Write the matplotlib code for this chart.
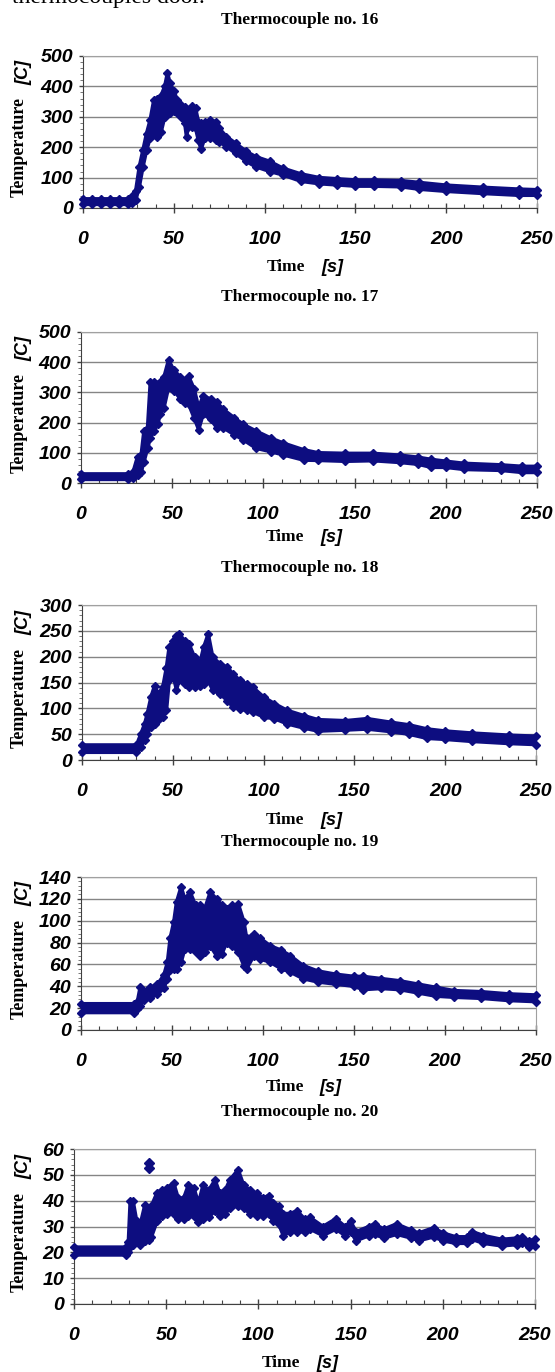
import matplotlib
matplotlib.use("Agg")
import matplotlib.pyplot as plt
from matplotlib.ticker import MultipleLocator, AutoMinorLocator
from matplotlib.transforms import blended_transform_factory
import numpy as np

# ---- data: band envelope (low / high) per thermocouple ----
t16 = [0, 5, 10, 15, 20, 25, 27, 29, 31, 33, 35, 37, 39, 41, 43, 45, 46.5, 48, 50, 52, 54, 56,
       57, 58, 60, 62, 63.5, 65, 67, 70, 73, 75, 79, 84, 90, 95, 103, 110, 120, 130, 140, 150,
       160, 175, 185, 200, 220, 240, 250]
lo16 = [12, 12, 12, 12, 12, 12, 15, 25, 70, 135, 190, 230, 245, 235, 250, 300, 320, 311, 320, 311,
        300, 280, 235, 265, 268, 262, 224, 193, 229, 229, 225, 218, 202, 180, 153, 136, 120, 109,
        88, 80, 76, 72, 72, 70, 62, 55, 48, 42, 42]
hi16 = [30, 30, 30, 30, 30, 30, 38, 55, 135, 190, 245, 290, 355, 360, 370, 400, 444, 410, 385, 355,
        340, 332, 320, 320, 335, 328, 284, 278, 284, 289, 284, 262, 235, 213, 186, 169, 153, 131,
        112, 100, 96, 92, 92, 90, 84, 75, 68, 62, 60]

t17 = [0, 26, 28.5, 31, 33, 34.5, 36.5, 38, 40, 42, 43.5, 45.5, 48, 51, 54.5, 57, 59, 62, 64.5,
       67, 71, 74.5, 78, 84, 89, 96, 104, 111, 122, 130, 145, 160, 175, 185, 192, 200, 210, 230,
       242, 250]
lo17 = [12, 12, 15, 26, 37, 70, 115, 149, 171, 194, 228, 250, 317, 306, 278, 265, 261, 216, 177,
        228, 211, 183, 183, 160, 143, 115, 104, 93, 76, 75, 72, 74, 68, 62, 52, 52, 45, 42, 35, 35]
hi17 = [30, 30, 35, 87, 93, 171, 183, 334, 334, 328, 334, 351, 407, 373, 351, 340, 353, 312, 250,
        289, 278, 267, 244, 216, 194, 172, 149, 132, 110, 100, 98, 98, 92, 85, 78, 72, 65, 60, 55, 55]

t18 = [0, 30, 32.5, 34.5, 36, 38, 40, 42, 44.5, 46.5, 48, 50, 52, 53.5, 56.5, 59, 62, 65, 67,
       69.5, 72, 76, 80, 83, 87, 91, 94, 100, 106, 113, 122, 130, 145, 157, 170, 180, 190, 200,
       215, 235, 250]
lo18 = [15, 15, 26, 38, 51, 64, 70, 77, 83, 96, 154, 167, 136, 154, 147, 141, 141, 144, 147, 154,
        135, 128, 115, 103, 99, 96, 93, 83, 80, 70, 62, 56, 58, 60, 55, 50, 42, 40, 36, 32, 30]
hi18 = [29, 29, 51, 70, 90, 122, 144, 128, 141, 179, 218, 231, 240, 244, 231, 224, 199, 189, 218,
        244, 199, 186, 180, 167, 154, 147, 141, 122, 109, 96, 86, 78, 76, 80, 73, 68, 60, 56, 52,
        48, 46]

t19 = [0, 29, 31, 32.5, 34.5, 38, 42, 45.5, 47.5, 49, 51, 52.5, 55, 57, 60, 63, 65.5, 68, 71,
       74.5, 77.5, 80, 83, 86.5, 89.5, 91, 95, 98.5, 104, 110, 115, 122, 130, 140, 150, 155, 165,
       175, 185, 195, 205, 220, 235, 250]
lo19 = [16, 16, 19, 22, 27, 29, 33, 38, 47, 55, 56, 56, 62, 74, 74, 71, 68, 71, 77, 68, 70, 80,
        77, 71, 59, 56, 68, 65, 62, 56, 53, 47, 44, 42, 40, 37, 38, 37, 34, 31, 30, 29, 27, 26]
hi19 = [24, 24, 26, 39, 36, 39, 42, 50, 62, 84, 99, 117, 131, 120, 126, 114, 114, 111, 126, 120,
        114, 111, 114, 115, 99, 84, 88, 84, 77, 73, 68, 59, 54, 51, 49, 49, 47, 45, 42, 39, 36, 35,
        33, 32]

t20 = [0, 28, 29.5, 30.5, 32, 34, 36, 38.5, 40.5, 42, 45, 47.5, 50.5, 54, 56.5, 59.5, 62, 65,
       67.5, 70, 73, 76.5, 79, 82, 84.5, 89, 92, 95.5, 99, 102.5, 105.5, 108, 111, 113.5, 117, 121,
       125, 128, 135, 142, 147, 150, 153, 160, 163, 168, 175, 183, 187, 195, 200, 207, 213, 216,
       222, 232, 240, 243, 247, 250]
lo20 = [19, 19, 20, 22, 23, 24, 23, 24.5, 24.6, 26, 32, 34, 35, 35, 33, 33, 34, 34, 31.6, 33, 33.6,
        36, 34, 35, 37, 38, 37, 35, 34, 34, 35, 32, 31, 26.5, 28, 28, 28, 29, 26.5, 29, 26.5, 28,
        24.5, 26.5, 27, 25.5, 27, 25.5, 24.5, 26, 24.5, 23.5, 23.5, 25, 23.5, 22.5, 23, 23.5, 22,
        22.5]
hi20 = [22, 22, 24, 40, 40, 32, 31, 38.5, 36, 38, 43, 44, 45, 47, 41, 41, 46, 45, 39, 46, 44, 48,
        43, 44, 48, 52, 46, 44, 43, 41, 42, 39, 38, 35, 35, 36, 33, 33.5, 30, 33, 30, 32, 28, 30,
        31, 29, 31, 28.5, 27.5, 29.5, 27.5, 26, 26, 28, 26.5, 25, 25.5, 26, 24.5, 25]
out_t20 = [40.5, 40.5]
out_T20 = [52.5, 54.5]

titles = ["Thermocouple no. 16", "Thermocouple no. 17", "Thermocouple no. 18",
          "Thermocouple no. 19", "Thermocouple no. 20"]
y_max = [500, 500, 300, 140, 60]
y_step = [100, 100, 50, 20, 10]

series = [(t16, lo16, hi16), (t17, lo17, hi17), (t18, lo18, hi18),
          (t19, lo19, hi19), (t20, lo20, hi20)]

# ---- layout in pixels: left, right, top, bottom of each plot box ----
W, H = 555, 1372
boxes = [(83, 537, 56, 208), (81, 537, 332, 483), (82, 536, 605, 760),
         (81, 536, 877, 1030), (74, 535, 1149, 1304)]
title_y = [20, 297, 568, 842, 1112]
xlabel_off = [59, 54, 60, 57, 59]

NAVY = "#0d0d80"
SERIF = "Liberation Serif"
SANS = "Liberation Sans"

fig = plt.figure(figsize=(W / 100, H / 100), dpi=100)
fig.patch.set_facecolor("white")

# line of body text cut by the top edge, as in the source page
fig.text(12 / W, 1 - 3 / H, "thermocouples door.", family=SERIF, fontsize=17,
         ha="left", va="baseline")

for i, (t, lo, hi) in enumerate(series):
    l, r, top, b = boxes[i]
    ax = fig.add_axes([l / W, 1 - b / H, (r - l) / W, (b - top) / H])

    ax.fill_between(t, lo, hi, color=NAVY, lw=0, clip_on=False, zorder=3)
    for edge in (lo, hi):
        ax.plot(t, edge, color=NAVY, lw=2.6, marker="D", ms=4, clip_on=False, zorder=3)
    if i == 4:
        ax.plot(out_t20, out_T20, "D", color=NAVY, ms=5, zorder=3)

    ax.set_xlim(0, 250)
    ax.set_ylim(0, y_max[i])
    ax.xaxis.set_major_locator(MultipleLocator(50))
    ax.xaxis.set_minor_locator(MultipleLocator(10))
    ax.yaxis.set_major_locator(MultipleLocator(y_step[i]))
    ax.yaxis.set_minor_locator(AutoMinorLocator(5))

    ax.grid(axis="y", which="major", color="#858585", lw=1.0, zorder=1)
    ax.set_axisbelow(True)
    for side in ("top", "right"):
        ax.spines[side].set_color("#a0a0a0")
    for side in ("left", "bottom"):
        ax.spines[side].set_color("#404040")

    ax.tick_params(axis="x", which="major", direction="inout", length=7, width=1,
                   color="#404040", pad=13)
    ax.tick_params(axis="x", which="minor", direction="in", length=3, width=0.8,
                   color="#404040")
    ax.tick_params(axis="y", which="major", direction="out", length=3, width=1,
                   color="#404040", pad=4)
    ax.tick_params(axis="y", which="minor", direction="out", length=2, width=0.6,
                   color="#606060")
    for lab in ax.get_xticklabels() + ax.get_yticklabels():
        lab.set_family(SANS)
        lab.set_fontweight("bold")
        lab.set_fontstyle("italic")
        lab.set_fontsize(14)

    # axis titles, serif word + italic sans unit
    hpx = b - top
    ax.text(0.49, -xlabel_off[i] / hpx, "Time", transform=ax.transAxes, family=SERIF,
            fontweight="bold", fontsize=12.5, ha="right", va="center")
    ax.text(0.525, -xlabel_off[i] / hpx, "[s]", transform=ax.transAxes, family=SANS,
            fontweight="bold", fontstyle="italic", fontsize=13, ha="left", va="center")
    tr = blended_transform_factory(fig.transFigure, ax.transAxes)
    ax.text(19 / W, 0.40, "Temperature", transform=tr, family=SERIF, fontweight="bold",
            fontsize=13, rotation=90, ha="center", va="center")
    ax.text(24 / W, 0.89, "[C]", transform=tr, family=SANS, fontweight="bold",
            fontstyle="italic", fontsize=13, rotation=90, ha="center", va="center")

    fig.text(300 / W, 1 - title_y[i] / H, titles[i], family=SERIF, fontweight="bold",
             fontsize=12.5, ha="center", va="center")

fig.savefig("out.png", dpi=100)
